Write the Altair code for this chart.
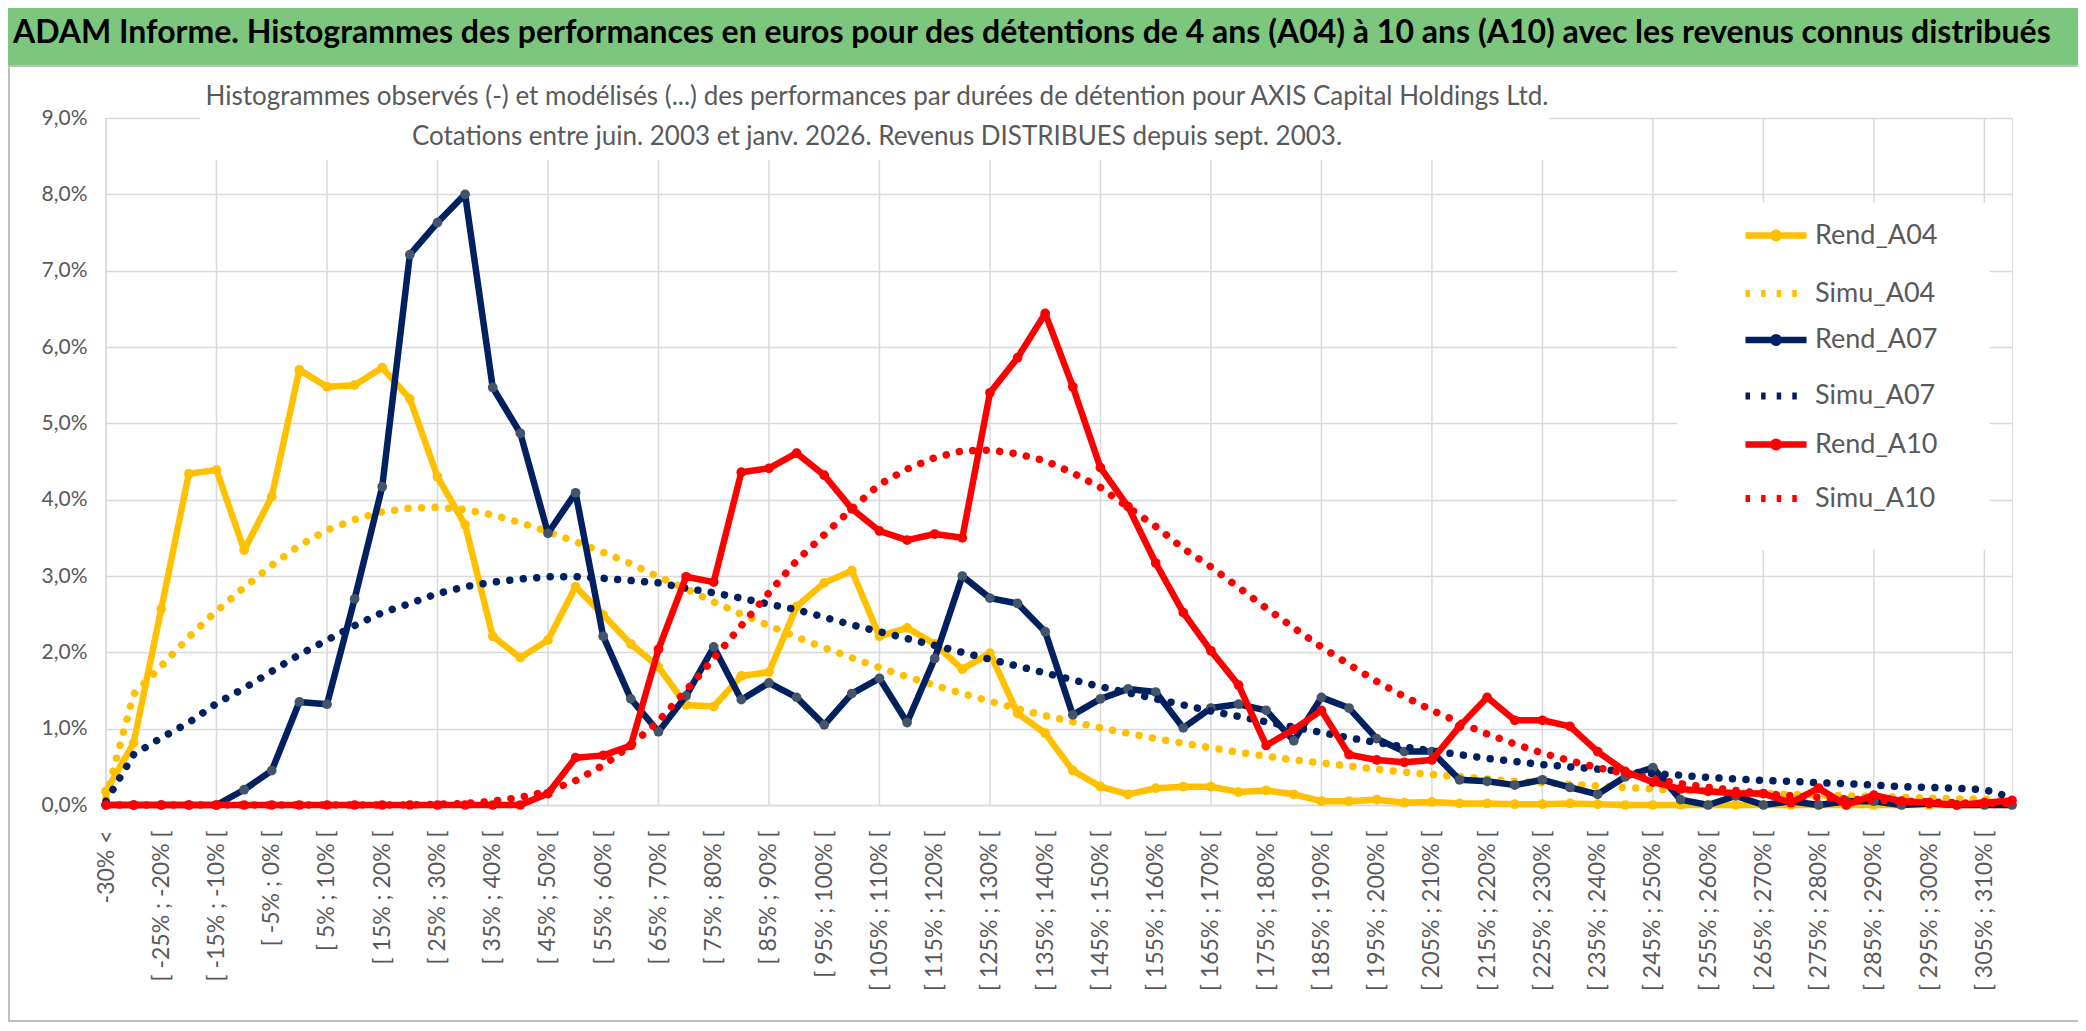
import altair as alt
import pandas as pd

# ---------------- data ----------------
categories = ["-30% <"] + [f"[ {-30 + 5 * k}% ; {-25 + 5 * k}% [" for k in range(69)]
label_cats = categories[::2]
grid_cats = categories[::4]

rend_a04 = [0.18, 0.81, 2.57, 4.34, 4.39, 3.34, 4.04, 5.70, 5.48, 5.50,
            5.73, 5.32, 4.30, 3.67, 2.21, 1.93, 2.16, 2.86, 2.49, 2.11,
            1.81, 1.31, 1.29, 1.69, 1.74, 2.60, 2.91, 3.07, 2.21, 2.32,
            2.11, 1.78, 1.99, 1.20, 0.94, 0.45, 0.24, 0.14, 0.22, 0.24,
            0.24, 0.17, 0.19, 0.14, 0.05, 0.05, 0.07, 0.03, 0.04, 0.02,
            0.02, 0.01, 0.01, 0.02, 0.01, 0.0, 0.0, 0.0, 0.0, 0.0,
            0.0, 0.0, 0.0, 0.0, 0.0, 0.0, 0.0, 0.0, 0.0, 0.0]
simu_a04 = [0.10, 1.45, 1.82, 2.20, 2.54, 2.85, 3.14, 3.40, 3.60, 3.74,
            3.84, 3.89, 3.90, 3.87, 3.80, 3.70, 3.58, 3.45, 3.31, 3.16,
            2.99, 2.83, 2.66, 2.50, 2.35, 2.20, 2.06, 1.93, 1.80, 1.68,
            1.57, 1.46, 1.36, 1.26, 1.17, 1.09, 1.01, 0.94, 0.87, 0.81,
            0.75, 0.69, 0.64, 0.59, 0.55, 0.51, 0.47, 0.43, 0.40, 0.37,
            0.34, 0.31, 0.29, 0.27, 0.25, 0.23, 0.21, 0.19, 0.18, 0.16,
            0.15, 0.14, 0.13, 0.12, 0.11, 0.10, 0.09, 0.08, 0.08, 0.04]
rend_a07 = [0.0, 0.0, 0.0, 0.0, 0.0, 0.20, 0.45, 1.35, 1.32, 2.70,
            4.17, 7.21, 7.63, 8.00, 5.47, 4.87, 3.56, 4.09, 2.21, 1.39,
            0.96, 1.43, 2.07, 1.38, 1.60, 1.41, 1.05, 1.46, 1.66, 1.08,
            1.92, 3.00, 2.71, 2.64, 2.27, 1.18, 1.39, 1.52, 1.48, 1.01,
            1.27, 1.32, 1.24, 0.84, 1.41, 1.27, 0.87, 0.70, 0.70, 0.33,
            0.31, 0.26, 0.33, 0.23, 0.14, 0.37, 0.49, 0.07, 0.0, 0.12,
            0.0, 0.05, 0.0, 0.05, 0.05, 0.0, 0.02, 0.0, 0.0, 0.0]
simu_a07 = [0.05, 0.66, 0.88, 1.08, 1.33, 1.53, 1.75, 1.97, 2.16, 2.35,
            2.52, 2.64, 2.77, 2.86, 2.92, 2.96, 2.99, 2.99, 2.97, 2.94,
            2.91, 2.84, 2.78, 2.71, 2.63, 2.56, 2.46, 2.36, 2.27, 2.18,
            2.09, 2.00, 1.91, 1.82, 1.73, 1.64, 1.55, 1.47, 1.39, 1.31,
            1.23, 1.16, 1.09, 1.02, 0.95, 0.88, 0.82, 0.76, 0.71, 0.66,
            0.61, 0.57, 0.53, 0.50, 0.47, 0.44, 0.41, 0.39, 0.36, 0.34,
            0.32, 0.31, 0.29, 0.28, 0.26, 0.24, 0.23, 0.22, 0.20, 0.10]
rend_a10 = [0.0, 0.0, 0.0, 0.0, 0.0, 0.0, 0.0, 0.0, 0.0, 0.0,
            0.0, 0.0, 0.0, 0.0, 0.0, 0.0, 0.15, 0.62, 0.65, 0.78,
            2.04, 2.99, 2.92, 4.36, 4.41, 4.61, 4.32, 3.88, 3.59, 3.47,
            3.55, 3.50, 5.40, 5.86, 6.44, 5.48, 4.42, 3.91, 3.17, 2.52,
            2.02, 1.57, 0.78, 0.99, 1.24, 0.66, 0.59, 0.56, 0.59, 1.03,
            1.41, 1.11, 1.11, 1.03, 0.70, 0.44, 0.30, 0.21, 0.18, 0.15,
            0.15, 0.03, 0.22, 0.0, 0.13, 0.05, 0.03, 0.0, 0.03, 0.06]
simu_a10 = [0.0, 0.0, 0.0, 0.0, 0.0, 0.0, 0.0, 0.0, 0.0, 0.0,
            0.0, 0.0, 0.01, 0.02, 0.05, 0.10, 0.18, 0.32, 0.52, 0.78,
            1.10, 1.50, 1.92, 2.35, 2.78, 3.20, 3.54, 3.88, 4.20, 4.40,
            4.55, 4.64, 4.65, 4.60, 4.51, 4.35, 4.16, 3.90, 3.65, 3.36,
            3.12, 2.85, 2.58, 2.32, 2.07, 1.84, 1.62, 1.42, 1.24, 1.08,
            0.93, 0.80, 0.68, 0.58, 0.49, 0.41, 0.34, 0.28, 0.23, 0.19,
            0.15, 0.12, 0.10, 0.08, 0.06, 0.05, 0.04, 0.03, 0.02, 0.02]

series_names = ["Rend_A04", "Simu_A04", "Rend_A07", "Simu_A07", "Rend_A10", "Simu_A10"]
series_values = [rend_a04, simu_a04, rend_a07, simu_a07, rend_a10, simu_a10]

rend_names = ["Rend_A04", "Rend_A07", "Rend_A10"]
simu_names = ["Simu_A04", "Simu_A07", "Simu_A10"]
line_colors = ["#FFC000", "#002060", "#FF0000"]
marker_colors = ["#FFC000", "#44546A", "#FF0000"]

banner_text = ("ADAM Informe. Histogrammes des performances en euros pour des détentions de 4 ans (A04) "
               "à 10 ans (A10) avec les revenus connus distribués")
subtitle_1 = ("Histogrammes observés (-) et modélisés (...) des performances par durées de détention "
              "pour AXIS Capital Holdings Ltd.")
subtitle_2 = "Cotations entre juin. 2003 et janv. 2026. Revenus DISTRIBUES depuis sept. 2003."

rows = []
for name, vals in zip(series_names, series_values):
    for cat, v in zip(categories, vals):
        rows.append({"cat": cat, "series": name, "v": v / 100.0})
df = pd.DataFrame(rows)
grid_df = pd.DataFrame({"cat": grid_cats})
one = pd.DataFrame({"a": [0]})

FONT = "Lato"
GREY = "#595959"
GRID = "#D9D9D9"

# ---------------- encodings ----------------
xenc = alt.X(
    "cat:N",
    sort=categories,
    scale=alt.Scale(type="point", domain=categories, padding=0),
    title=None,
    axis=alt.Axis(values=label_cats, labelAngle=270, labelOverlap=False, labelFontSize=23,
                  labelFont=FONT, labelColor=GREY, labelPadding=25, ticks=False, tickSize=0,
                  domainColor=GRID, domainWidth=1.5, grid=False, labelLimit=400),
)
yenc = alt.Y(
    "v:Q",
    scale=alt.Scale(domain=[0, 0.09], nice=False, zero=True),
    title=None,
    axis=alt.Axis(values=[i / 100 for i in range(10)],
                  labelExpr="replace(format(datum.value, '.1%'), '.', ',')",
                  grid=True, gridColor=GRID, gridWidth=1.5, domain=False, ticks=False, tickSize=0,
                  labelPadding=19, labelFontSize=21, labelFont=FONT, labelColor=GREY),
)

REND_PATH = "M-1,0L1,0M0.09,0A0.09,0.09,0,1,1,-0.09,0A0.09,0.09,0,1,1,0.09,0Z"

rend_legend = alt.Legend(title=None, orient="none", legendX=1636, legendY=83.5,
                         symbolType=REND_PATH, symbolSize=3721, symbolStrokeWidth=6.5,
                         labelFont=FONT, labelFontSize=27, labelColor=GREY, labelOffset=5,
                         rowPadding=54.5, padding=0)
simu_legend = alt.Legend(title=None, orient="none", legendX=1636, legendY=141.5,
                         symbolType="stroke", symbolSize=3721, symbolStrokeWidth=7,
                         symbolDash=[4.5, 11.1],
                         labelFont=FONT, labelFontSize=27, labelColor=GREY, labelOffset=5,
                         rowPadding=54.5, padding=0)

color_rend = alt.Color("series:N", scale=alt.Scale(domain=rend_names, range=line_colors),
                       legend=rend_legend)
fill_rend = alt.Fill("series:N", scale=alt.Scale(domain=rend_names, range=marker_colors),
                     legend=None)
stroke_simu = alt.Stroke("series:N", scale=alt.Scale(domain=simu_names, range=line_colors),
                         legend=simu_legend)

# ---------------- layers ----------------
layers = []
layers.append(alt.Chart(grid_df).mark_rule(color=GRID, strokeWidth=1.5).encode(x=xenc))
# white box behind the inner title, white box behind the legend
layers.append(alt.Chart(one).mark_rect(fill="white").encode(
    x=alt.value(94), x2=alt.value(1444), y=alt.value(-50), y2=alt.value(42)))
layers.append(alt.Chart(one).mark_rect(fill="white").encode(
    x=alt.value(1571), x2=alt.value(1884), y=alt.value(85), y2=alt.value(432)))
# green banner
layers.append(alt.Chart(one).mark_rect(fill="#7DC67D", stroke="#A6A6A6", strokeWidth=2).encode(
    x=alt.value(-106), x2=alt.value(1974), y=alt.value(-118), y2=alt.value(-52)))
layers.append(alt.Chart(one).mark_text(text=banner_text, font=FONT, fontSize=32, fontWeight="bold",
                                       align="left", baseline="middle", color="black").encode(
    x=alt.value(-93), y=alt.value(-85)))
layers.append(alt.Chart(one).mark_text(text=subtitle_1, font=FONT, fontSize=26,
                                       align="center", baseline="middle", color=GREY).encode(
    x=alt.value(771), y=alt.value(-21)))
layers.append(alt.Chart(one).mark_text(text=subtitle_2, font=FONT, fontSize=26,
                                       align="center", baseline="middle", color=GREY).encode(
    x=alt.value(771), y=alt.value(19)))
layers.append(alt.Chart(one).mark_rect(fillOpacity=0, stroke="#BFBFBF", strokeWidth=2).encode(
    x=alt.value(-97), x2=alt.value(1973), y=alt.value(-52), y2=alt.value(903)))

for k in range(3):
    rname = rend_names[k]
    sname = simu_names[k]
    base_r = alt.Chart(df).transform_filter(alt.datum.series == rname)
    base_s = alt.Chart(df).transform_filter(alt.datum.series == sname)
    layers.append(base_r.mark_line(strokeWidth=6.5, strokeJoin="round", strokeCap="round").encode(
        x=xenc, y=yenc, color=color_rend))
    layers.append(base_r.mark_circle(size=95, opacity=1).encode(x=xenc, y=yenc, fill=fill_rend))
    layers.append(base_s.mark_line(strokeWidth=7.5, strokeDash=[0.01, 13.5], strokeCap="round").encode(
        x=xenc, y=yenc, stroke=stroke_simu))

chart = alt.layer(*layers).properties(
    width=1906, height=687,
    autosize=alt.AutoSizeParams(type="none"),
    padding={"left": 98, "top": 110, "right": 66, "bottom": 218},
).configure_view(strokeWidth=0).configure(background="white")

chart.save("out.html", embed_options={"renderer": "svg", "actions": False})
